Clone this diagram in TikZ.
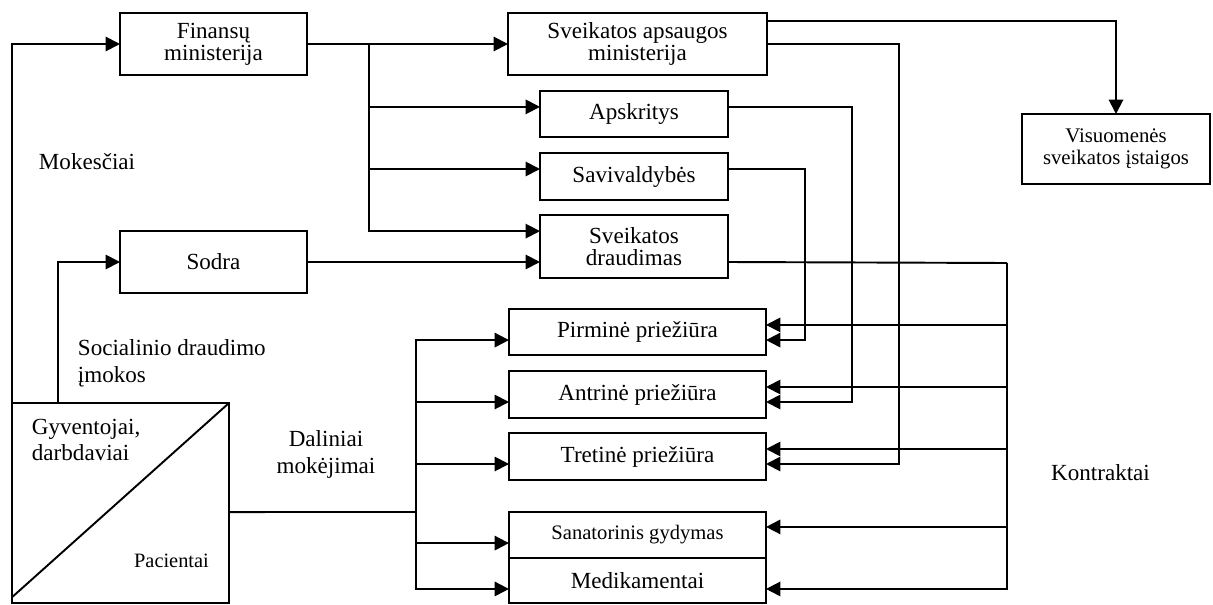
\documentclass[tikz,border=0pt]{standalone}
\usepackage{fontspec}
\setmainfont{Liberation Serif}
\usetikzlibrary{arrows.meta}
\newcommand{\un}{0.52pt}

\tikzset{box/.style={rectangle,draw,inner sep=0pt,outer sep=0pt,align=center,
    font=\fontsize{12}{11.5}\selectfont},
  lbl/.style={align=left,inner sep=0pt,font=\fontsize{12}{14}\selectfont},
  arr/.style={-{Triangle[length=7.5pt,width=7.5pt]}}}

\begin{document}
\begin{tikzpicture}[x=\un,y=-\un,line width=1pt]
\useasboundingbox (0,0) rectangle (1213,604);

\node[box, minimum width = 187*\un, minimum height = 62*\un] (fin) at (213.5,44) {Finansų\\ministerija};
\node[box, minimum width = 259*\un, minimum height = 62*\un] (sam) at (637.5,44) {Sveikatos apsaugos\\ministerija};
\node[box, minimum width = 188*\un, minimum height = 46*\un] (apskr) at (634,114) {Apskritys};
\node[box, minimum width = 188*\un, minimum height = 47*\un] (saviv) at (634,176.5) {Savivaldybės};
\node[box, minimum width = 188*\un, minimum height = 63*\un] (draud) at (634,246.5) {Sveikatos\\draudimas};
\node[box, minimum width = 187*\un, minimum height = 62*\un] (sodra) at (213.5,262) {Sodra};
\node[box, minimum width = 188*\un, minimum height = 70*\un,
    font=\fontsize{10.8}{11.5}\selectfont] (visuom) at (1116,149) {Visuomenės\\sveikatos įstaigos};

\node[box, minimum width = 257*\un, minimum height = 46*\un] (pirm) at (637.5,332) {Pirminė priežiūra};
\node[box, minimum width = 257*\un, minimum height = 47*\un] (antr) at (637.5,394.5) {Antrinė priežiūra};
\node[box, minimum width = 257*\un, minimum height = 47*\un] (tret) at (637.5,456.5) {Tretinė priežiūra};
\node[box, minimum width = 257*\un, minimum height = 46*\un,
    font=\fontsize{10.7}{11.5}\selectfont] (sanat) at (637.5,535) {Sanatorinis gydymas};
\node[box, minimum width = 257*\un, minimum height = 45*\un] (medik) at (637.5,580.5) {Medikamentai};

% gyventojai / pacientai
\node[box, minimum width = 217*\un, minimum height = 200*\un] (gyv) at (120.5,503) {};
\draw ([yshift=3pt]gyv.south west) -- (gyv.north east);
\node[lbl, anchor=west] (gyvt) at (31,440) {Gyventojai,\\darbdaviai};
\node[lbl, font=\fontsize{10.6}{12}\selectfont] (pac) at (171.5,561) {Pacientai};

\node[lbl, anchor=west] (mok) at (38,162) {Mokesčiai};
\node[lbl, anchor=west] (soc) at (77,363) {Socialinio draudimo\\įmokos};
\node[lbl, align=center] (dal) at (326,454) {Daliniai\\mokėjimai};
\node[lbl] (kontr) at (1100.5,473) {Kontraktai};

% imokos
\coordinate (sb) at (58,403);
\draw[arr] (gyv.north west) |- (fin.west);
\draw[arr] (sb) |- (sodra.west);
\draw[arr] (sodra.east) -- (sodra.east -| draud.west);

% finansavimas
\coordinate (tr) at (369,44);
\draw[arr] (fin.east) -- (sam.west);
\draw[arr] (tr) |- ([yshift=3.7pt]apskr.west);
\draw[arr] (tr) |- ([yshift=3.9pt]saviv.west);
\draw[arr] (tr) |- ([yshift=8pt]draud.west);

\draw[arr] ([yshift=12pt]sam.east) -| (visuom.north);
\draw[arr] (sam.east) -- ++(132,0) |- ([yshift=-3.9pt]tret.east);
\draw[arr] ([yshift=3.7pt]apskr.east) -- ++(124,0) |- ([yshift=-3.9pt]antr.east);
\draw[arr] ([yshift=3.9pt]saviv.east) -- ++(77,0) |- ([yshift=-4.2pt]pirm.east);

% kontraktai
\coordinate (kt) at (1007,263);
\draw (sodra.east -| draud.east) -- (kt);
\draw[arr] (kt) |- ([yshift=3.7pt]pirm.east);
\draw[arr] (kt) |- ([yshift=3.9pt]antr.east);
\draw[arr] (kt) |- ([yshift=3.9pt]tret.east);
\draw[arr] (kt) |- ([yshift=4.2pt]sanat.east);
\draw[arr] (kt) |- ([yshift=-4.4pt]medik.east);

% daliniai mokejimai
\coordinate (pb) at (416,512);
\draw ([yshift=-4.7pt]gyv.east) -- (pb);
\draw[arr] (pb) |- ([yshift=-4.2pt]pirm.west);
\draw[arr] (pb) |- ([yshift=-3.9pt]antr.west);
\draw[arr] (pb) |- ([yshift=-3.9pt]tret.west);
\draw[arr] (pb) |- ([yshift=-4.2pt]sanat.west);
\draw[arr] (pb) |- ([yshift=-4.4pt]medik.west);
\end{tikzpicture}
\end{document}
